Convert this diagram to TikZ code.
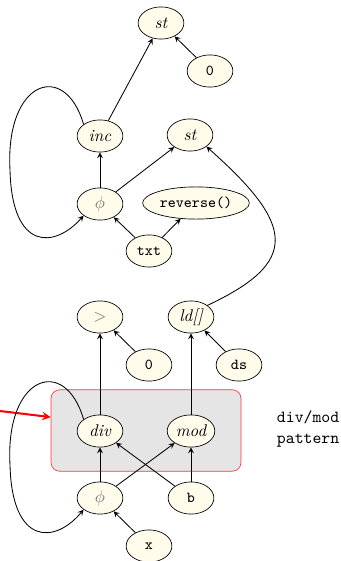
\documentclass[tikz,border=0pt]{standalone}
\usepackage{amsmath}
\usepackage{amssymb}
\usepackage{tikz}
\usepackage{xcolor}
\usetikzlibrary{shapes.geometric}
\definecolor{node-fill}{RGB}{255,252,236}
\tikzset{
    op-node/.style = {draw=black, fill=node-fill, ellipse, inner sep=1pt, minimum width=27pt, minimum height=19pt, font=\itshape},
    val-node/.style = {op-node, font=\small\ttfamily},
    phi-node/.style = {op-node, text=gray!90!black},
    pattern-box/.style = {draw=red!80, fill=gray!20, rounded corners=5pt, minimum width=112pt, minimum height=48pt},
    flow/.style = {->, >=stealth, line width=0.5pt},
}

\begin{document}
\begin{tikzpicture}[x=0.59pt, y=-0.59pt]
\useasboundingbox (0,0) rectangle (340,561);
\node[pattern-box] (pattern) at (146,430.5) {};
\node[align=left, anchor=west, font=\ttfamily] (pattern-label) at (271,429) {div/mod\\pattern};
\coordinate (red-start) at (0,411);
\draw[->, >=stealth, red, line width=1.2pt] (red-start) -- (pattern.172);

% loop body
\node[op-node] (st-top) at (161,23) {st};
\node[val-node] (zero-top) at (210,71) {0};
\node[op-node] (inc) at (100,136) {inc};
\node[op-node] (st-mid) at (190,135) {st};
\node[phi-node] (phi-top) at (100,204) {$\phi$};
\node[val-node] (rev) at (196,203) {reverse()};
\node[val-node] (txt) at (149,251) {txt};

% div/mod part
\node[phi-node] (gt) at (100,317) {$>$};
\node[op-node] (ld) at (191,317) {ld[]};
\node[val-node] (zero-low) at (149,365) {0};
\node[val-node] (ds) at (239,365) {ds};
\node[op-node] (div) at (100,431) {div};
\node[op-node] (mod) at (191,431) {mod};
\node[phi-node] (phi-low) at (100,498) {$\phi$};
\node[val-node] (b) at (191,498) {b};
\node[val-node] (x) at (149,546) {x};

\draw[flow] (zero-top) -- (st-top);
\draw[flow] (inc) -- (st-top);
\draw[flow] (phi-top) -- (inc);
\draw[flow] (phi-top) -- (st-mid);
\draw[flow] (txt) -- (phi-top);
\draw[flow] (txt) -- (rev);
\draw[flow] (inc.north west) .. controls (65,60) and (5,80) .. (10,170)
    .. controls (12,252) and (55,248) .. (phi-top.south west);
\draw[flow] (ld.north east) .. controls (300,262) and (295,225) .. (st-mid.south east);

\draw[flow] (zero-low) -- (gt);
\draw[flow] (div) -- (gt);
\draw[flow] (ds) -- (ld);
\draw[flow] (mod) -- (ld);
\draw[flow] (phi-low) -- (div);
\draw[flow] (phi-low) -- (mod);
\draw[flow] (b) -- (div);
\draw[flow] (b) -- (mod);
\draw[flow] (x) -- (phi-low);
\draw[flow] (div.north west) .. controls (65,355) and (5,375) .. (10,465)
    .. controls (12,546) and (55,544) .. (phi-low.south west);
\end{tikzpicture}
\end{document}
